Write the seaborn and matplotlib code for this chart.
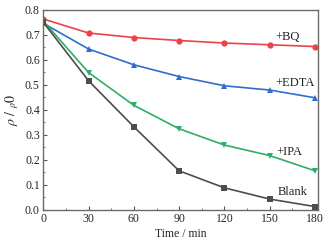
import seaborn as sns
import matplotlib.pyplot as plt
import pandas as pd
from matplotlib.ticker import MultipleLocator

# Data
time_min = [0, 30, 60, 90, 120, 150, 180]
bq = [0.763, 0.707, 0.689, 0.677, 0.667, 0.660, 0.653]
edta = [0.746, 0.643, 0.580, 0.533, 0.496, 0.479, 0.448]
ipa = [0.755, 0.549, 0.418, 0.324, 0.259, 0.217, 0.156]
blank = [0.750, 0.516, 0.332, 0.156, 0.088, 0.043, 0.013]

series = ["+BQ", "+EDTA", "+IPA", "Blank"]
colors = ["#ec4249", "#2f6fcc", "#2fae67", "#4d4d4d"]
markers = ["o", "^", "v", "s"]
label_pos = [(162, 0.69), (167, 0.507), (163, 0.232), (165, 0.07)]

df = pd.DataFrame({
    "time": time_min * 4,
    "value": bq + edta + ipa + blank,
    "series": [s for s in series for _ in time_min],
})

sns.set_style("ticks")
plt.rcParams['font.family'] = ['Liberation Serif', 'DejaVu Serif']
plt.rcParams['mathtext.fontset'] = 'stix'

fig, ax = plt.subplots(figsize=(3.33, 2.44), dpi=100)

sns.lineplot(
    data=df, x="time", y="value", hue="series", style="series",
    hue_order=series, style_order=series,
    palette=colors, markers=markers, dashes=False,
    markersize=4.5, markeredgewidth=0, linewidth=1.2,
    legend=False, ax=ax
)

for name, (tx, ty) in zip(series, label_pos):
    ax.text(tx, ty, name, fontsize=9, ha="center", va="center", color="#222222")

ax.set_xlim(0, 182)
ax.set_ylim(0, 0.8)
ax.xaxis.set_major_locator(MultipleLocator(30))
ax.xaxis.set_minor_locator(MultipleLocator(15))
ax.yaxis.set_major_locator(MultipleLocator(0.1))
ax.yaxis.set_minor_locator(MultipleLocator(0.05))
ax.set_xlabel("Time / min", fontsize=8.5, labelpad=2)
ax.set_ylabel(r"$\rho\ /\ _{\rho}0$", fontsize=10, labelpad=3)
ax.tick_params(axis='both', which='major', direction='in', length=3, width=0.8,
               labelsize=8.5, color="#555555", pad=2.5)
ax.tick_params(axis='both', which='minor', direction='in', length=1.5, width=0.6,
               color="#555555")
for spine in ['top', 'bottom', 'left', 'right']:
    ax.spines[spine].set_visible(True)
    ax.spines[spine].set_color('#6b6b6b')
    ax.spines[spine].set_linewidth(1.0)

fig.subplots_adjust(left=0.13, right=0.955, top=0.96, bottom=0.14)
plt.savefig("out.png", dpi=100)
